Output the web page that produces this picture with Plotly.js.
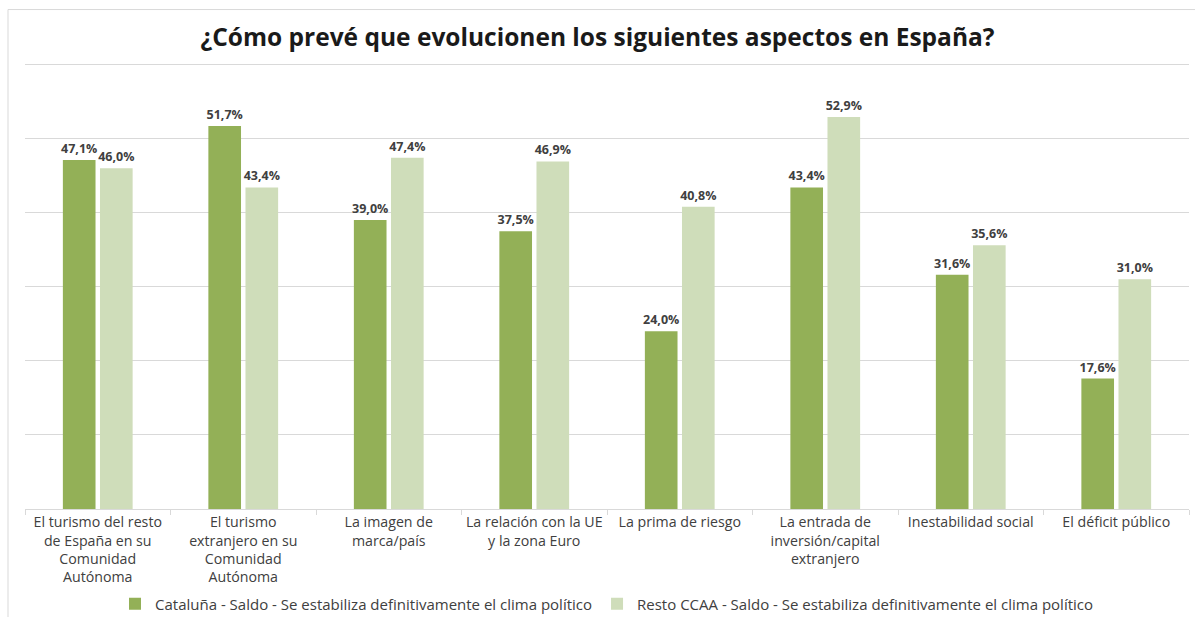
<!DOCTYPE html>
<html>
<head>
<meta charset="utf-8">
<script src="https://cdn.plot.ly/plotly-3.0.1.min.js"></script>
<style>
html,body{margin:0;padding:0;background:#fff;}
#chart{width:1195px;height:617px;}
</style>
</head>
<body>
<div id="chart"></div>
<script>
const categories = [
  "El turismo del resto<br>de España en su<br>Comunidad<br>Autónoma",
  "El turismo<br>extranjero en su<br>Comunidad<br>Autónoma",
  "La imagen de<br>marca/país",
  "La relación con la UE<br>y la zona Euro",
  "La prima de riesgo",
  "La entrada de<br>inversión/capital<br>extranjero",
  "Inestabilidad social",
  "El déficit público"
];
const cataluna = [47.1, 51.7, 39.0, 37.5, 24.0, 43.4, 31.6, 17.6];
const restoCCAA = [46.0, 43.4, 47.4, 46.9, 40.8, 52.9, 35.6, 31.0];
const seriesNames = [
  "Cataluña - Saldo - Se estabiliza definitivamente el clima político",
  "Resto CCAA - Saldo - Se estabiliza definitivamente el clima político"
];

const fmt = v => v.toFixed(1).replace('.', ',') + '%';
const labelFont = {family: "Open Sans, sans-serif", size: 12.5, color: "#404040", weight: "bold"};

const traces = [
  {type: 'bar', name: seriesNames[0], x: categories, y: cataluna,
   text: cataluna.map(fmt), textposition: 'outside', textfont: labelFont,
   constraintext: 'none', cliponaxis: false,
   marker: {color: '#93B057'}, hoverinfo: 'none'},
  {type: 'bar', name: seriesNames[1], x: categories, y: restoCCAA,
   text: restoCCAA.map(fmt), textposition: 'outside', textfont: labelFont,
   constraintext: 'none', cliponaxis: false,
   marker: {color: '#CFDDBA'}, hoverinfo: 'none'}
];

const layout = {
  width: 1195, height: 617,
  margin: {l: 25, r: 6, t: 57, b: 108, autoexpand: false},
  paper_bgcolor: '#fff', plot_bgcolor: '#fff',
  font: {family: "Open Sans, sans-serif", color: '#404040'},
  title: {text: "¿Cómo prevé que evolucionen los siguientes aspectos en España?",
          font: {family: "Open Sans, sans-serif", size: 24.5, color: '#1a1a1a', weight: 'bold'},
          x: 0.5, xanchor: 'center', y: 0.94, yanchor: 'middle'},
  barmode: 'group', bargap: 0.49, bargroupgap: 0.12,
  xaxis: {type: 'category', showline: true, linecolor: '#d9d9d9', linewidth: 1,
          ticks: 'outside', tickson: 'boundaries', ticklen: 5, tickcolor: '#d9d9d9',
          tickangle: 0,
          tickfont: {family: "Open Sans, sans-serif", size: 14.2, color: '#404040'},
          showgrid: false, fixedrange: true, automargin: false},
  yaxis: {range: [0, 61], tickvals: [10, 20, 30, 40, 50, 60], showgrid: true, gridcolor: '#d9d9d9', gridwidth: 1,
          showticklabels: false, zeroline: false, showline: false, ticks: '', fixedrange: true, automargin: false},
  legend: {orientation: 'h', x: 0.5, xanchor: 'center', y: -0.21, yanchor: 'middle',
           font: {family: "Open Sans, sans-serif", size: 15, color: '#404040'},
           traceorder: 'normal'},
  showlegend: true,
  shapes: [{type: 'rect', xref: 'paper', yref: 'paper',
            x0: -0.0146, x1: 1.05, y0: -0.35, y1: 1.105,
            line: {color: '#d9d9d9', width: 1}, fillcolor: 'rgba(0,0,0,0)', layer: 'below'}]
};

Plotly.newPlot('chart', traces, layout, {displayModeBar: false, staticPlot: true});
</script>
</body>
</html>
